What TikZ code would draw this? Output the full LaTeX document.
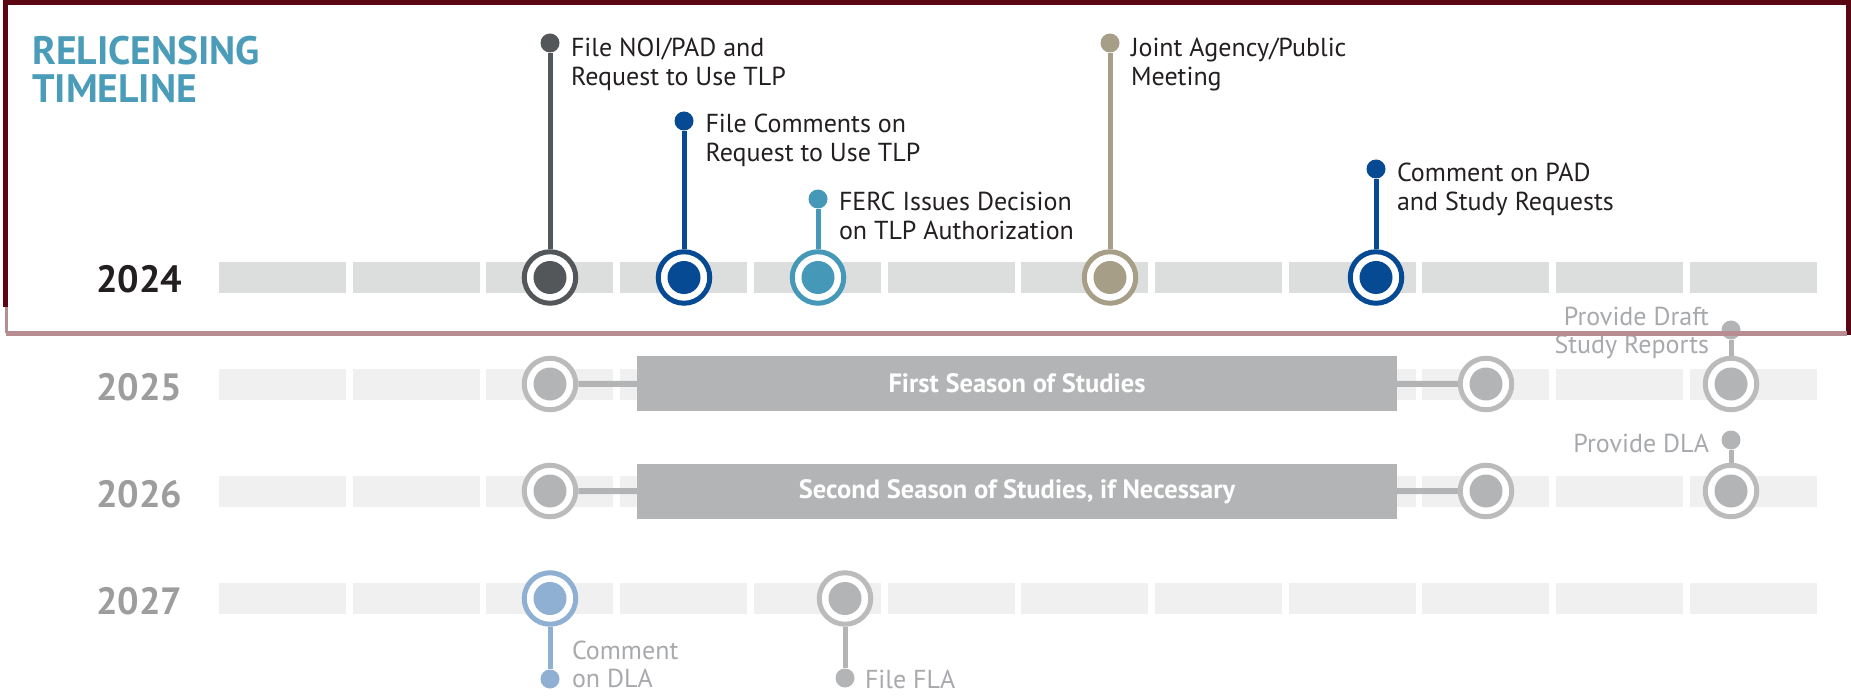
\documentclass[tikz,border=0pt]{standalone}
\usepackage{fontspec}
\setmainfont{PT Sans}
\definecolor{darkgray}{HTML}{53575A}
\definecolor{navy}{HTML}{054A93}
\definecolor{teal}{HTML}{4598B7}
\definecolor{tan}{HTML}{A69E86}
\definecolor{titlecol}{HTML}{4A9CB9}
\definecolor{bartop}{HTML}{DCDDDD}
\definecolor{barlow}{HTML}{F0F0F0}
\definecolor{grayring}{HTML}{BBBBBB}
\definecolor{grayfill}{HTML}{B3B4B5}
\definecolor{lightblue}{HTML}{8FB0D3}
\definecolor{graytext}{HTML}{A7A9AC}
\definecolor{darktext}{HTML}{231F20}
\definecolor{yeargray}{HTML}{9D9D9D}
\definecolor{framedark}{HTML}{5A0613}
\definecolor{framelight}{HTML}{B88D91}
\begin{document}
\begin{tikzpicture}[x=1pt,y=-1pt,
  ms/.style 2 args={circle, draw=#1, line width=5pt, fill=white, minimum size=51.5pt, inner sep=0pt,
    path picture={\fill[#2] (path picture bounding box.center) circle (16.5pt);}},
  dot/.style={circle, fill=#1, minimum size=19pt, inner sep=0pt},
  stem/.style={draw=#1, line width=5pt},
  lbl/.style={inner sep=0pt, outer sep=0pt, align=left, text=darktext, font=\fontsize{26}{28.5}\selectfont},
  glbl/.style={inner sep=0pt, outer sep=0pt, text=graytext, font=\fontsize{26}{28.5}\selectfont},
  year/.style={inner sep=0pt, font=\bfseries\fontsize{38}{38}\selectfont},
  boxnode/.style={fill=grayfill, minimum width=760pt, minimum height=55pt, inner sep=0pt, text=white, font=\bfseries\fontsize{26.5}{26.5}\selectfont},
  conn/.style={draw=grayfill, line width=6pt}
]
\useasboundingbox (0,0) rectangle (1851,700);

% month bars
\foreach \i in {0,...,11} {
  \fill[bartop] ({219+133.7*\i},262) rectangle ++(127,31);
  \fill[barlow] ({219+133.7*\i},368.5) rectangle ++(127,31);
  \fill[barlow] ({219+133.7*\i},475.5) rectangle ++(127,31);
  \fill[barlow] ({219+133.7*\i},583) rectangle ++(127,31);
}

% title
\node[inner sep=0pt, anchor=base west, align=left, text=titlecol, font=\bfseries\fontsize{39.7}{38}\selectfont] (title) at (32,103) {RELICENSING\\TIMELINE};

% years
\node[year, anchor=base west, text=darktext] (y24) at (96,293) {2024};
\node[year, anchor=base west, text=yeargray] (y25) at (96,400) {2025};
\node[year, anchor=base west, text=yeargray] (y26) at (96,507) {2026};
\node[year, anchor=base west, text=yeargray] (y27) at (96,614) {2027};

% 2024 milestones
\node[ms={darkgray}{darkgray}] (m1) at (550,277.5) {};
\node[dot=darkgray] (d1) at (550,43) {};
\draw[stem=darkgray] (d1) -- (m1);
\node[lbl, anchor=base west] (t1) at (571,85.2) {File NOI/PAD and\\Request to Use TLP};

\node[ms={navy}{navy}] (m2) at (684,277.5) {};
\node[dot=navy] (d2) at (684,121) {};
\draw[stem=navy] (d2) -- (m2);
\node[lbl, anchor=base west] (t2) at (705.5,161.5) {File Comments on\\Request to Use TLP};

\node[ms={teal}{teal}] (m3) at (818,277.5) {};
\node[dot=teal] (d3) at (818,199) {};
\draw[stem=teal] (d3) -- (m3);
\node[lbl, anchor=base west] (t3) at (839,239.2) {FERC Issues Decision\\on TLP Authorization};

\node[ms={tan}{tan}] (m4) at (1110,277.5) {};
\node[dot=tan] (d4) at (1110,43) {};
\draw[stem=tan] (d4) -- (m4);
\node[lbl, anchor=base west] (t4) at (1131,85.2) {Joint Agency/Public\\Meeting};

\node[ms={navy}{navy}] (m5) at (1376,277.5) {};
\node[dot=navy] (d5) at (1376,169) {};
\draw[stem=navy] (d5) -- (m5);
\node[lbl, anchor=base west] (t5) at (1397,210.2) {Comment on PAD\\and Study Requests};

% 2025
\node[boxnode] (b1) at (1017,383.5) {First Season of Studies};
\node[ms={grayring}{grayfill}] (g1) at (550,384) {};
\node[ms={grayring}{grayfill}] (g2) at (1486,384) {};
\node[ms={grayring}{grayfill}] (g3) at (1731,384) {};
\draw[conn] (g1) -- (b1);
\draw[conn] (b1) -- (g2);
\node[dot=grayfill] (gd3) at (1731,330) {};
\draw[stem=grayfill] (gd3) -- (g3);
\node[glbl, anchor=base east, align=right] (gt3) at (1709,353.5) {Provide Draft\\Study Reports};

% 2026
\node[boxnode] (b2) at (1017,491.5) {Second Season of Studies, if Necessary};
\node[ms={grayring}{grayfill}] (g4) at (550,491) {};
\node[ms={grayring}{grayfill}] (g5) at (1486,491) {};
\node[ms={grayring}{grayfill}] (g6) at (1731,491) {};
\draw[conn] (g4) -- (b2);
\draw[conn] (b2) -- (g5);
\node[dot=grayfill] (gd6) at (1731,440) {};
\draw[stem=grayfill] (gd6) -- (g6);
\node[glbl, anchor=base east] (gt6) at (1709,452) {Provide DLA};

% 2027
\node[ms={lightblue}{lightblue}] (g7) at (550,598.5) {};
\node[dot=lightblue] (gd7) at (550,679) {};
\draw[stem=lightblue] (g7) -- (gd7);
\node[glbl, anchor=base west, align=left] (gt7) at (572,687.5) {Comment\\on DLA};

\node[ms={grayring}{grayfill}] (g8) at (845,598.5) {};
\node[dot=grayfill] (gd8) at (845,678) {};
\draw[stem=grayfill] (g8) -- (gd8);
\node[glbl, anchor=base west] (gt8) at (865,688) {File FLA};

% frame
\draw[framedark, line width=5pt] (5.5,307) -- (5.5,2.5) -- (1848.5,2.5) -- (1848.5,335);
\draw[framelight, line width=3pt] (6.5,307) -- (6.5,333);
\draw[framelight, line width=5pt] (6,333) -- (1847,333);
\end{tikzpicture}
\end{document}
